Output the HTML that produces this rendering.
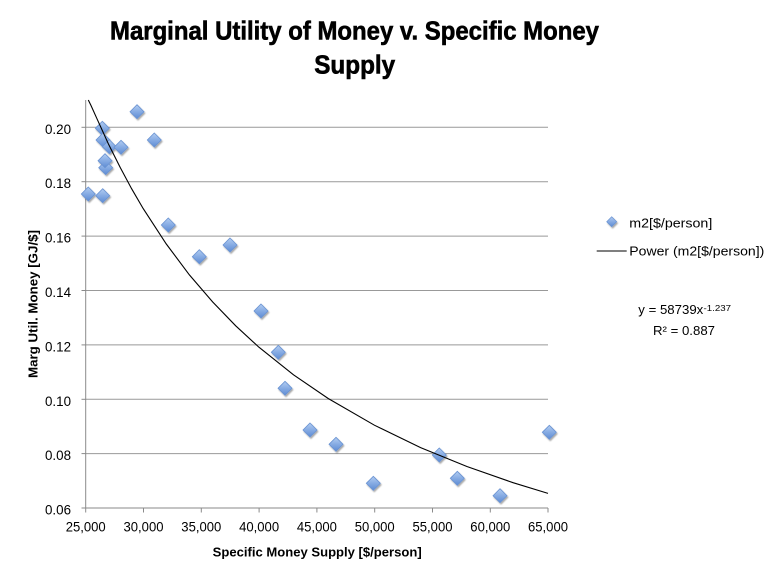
<!DOCTYPE html>
<html>
<head>
<meta charset="utf-8">
<style>
  html,body{margin:0;padding:0;background:#fff;}
  svg{display:block;}
  text{font-family:"Liberation Sans", sans-serif;fill:#000;}
</style>
</head>
<body>
<svg width="783" height="579" viewBox="0 0 783 579" xmlns="http://www.w3.org/2000/svg">
  <defs>
    <linearGradient id="dg" x1="0" y1="0" x2="0" y2="1">
      <stop offset="0" stop-color="#b3cdf2"/>
      <stop offset="0.5" stop-color="#86abe3"/>
      <stop offset="1" stop-color="#5e8cd4"/>
    </linearGradient>
    <filter id="sh" x="-50%" y="-50%" width="200%" height="200%">
      <feGaussianBlur in="SourceAlpha" stdDeviation="0.9"/>
      <feOffset dx="0.8" dy="1.6" result="b"/>
      <feComponentTransfer><feFuncA type="linear" slope="0.35"/></feComponentTransfer>
      <feMerge><feMergeNode/><feMergeNode in="SourceGraphic"/></feMerge>
    </filter>
    <path id="dm" d="M0,-7 L7,0 L0,7 L-7,0 Z" fill="url(#dg)" stroke="#6a93d2" stroke-width="0.8"/>
  </defs>
  <rect width="783" height="579" fill="#fff"/>

  <!-- Title -->
  <text x="354.5" y="39.3" font-size="26" font-weight="bold" text-anchor="middle" textLength="489" lengthAdjust="spacingAndGlyphs" stroke="#000" stroke-width="0.6">Marginal Utility of Money v. Specific Money</text>
  <text x="354.7" y="73.3" font-size="26" font-weight="bold" text-anchor="middle" textLength="81" lengthAdjust="spacingAndGlyphs" stroke="#000" stroke-width="0.6">Supply</text>

  <!-- gridlines -->
  <g stroke="#999" stroke-width="1">
    <line x1="85.7" y1="127.3" x2="548" y2="127.3"/>
    <line x1="85.7" y1="181.7" x2="548" y2="181.7"/>
    <line x1="85.7" y1="236.1" x2="548" y2="236.1"/>
    <line x1="85.7" y1="290.5" x2="548" y2="290.5"/>
    <line x1="85.7" y1="344.9" x2="548" y2="344.9"/>
    <line x1="85.7" y1="399.3" x2="548" y2="399.3"/>
    <line x1="85.7" y1="453.6" x2="548" y2="453.6"/>
  </g>
  <!-- axes -->
  <g stroke="#8a8a8a" stroke-width="1">
    <line x1="85.7" y1="100" x2="85.7" y2="508"/>
    <line x1="85.7" y1="508" x2="548" y2="508"/>
    <!-- y ticks -->
    <line x1="81.5" y1="127.3" x2="85.7" y2="127.3"/>
    <line x1="81.5" y1="181.7" x2="85.7" y2="181.7"/>
    <line x1="81.5" y1="236.1" x2="85.7" y2="236.1"/>
    <line x1="81.5" y1="290.5" x2="85.7" y2="290.5"/>
    <line x1="81.5" y1="344.9" x2="85.7" y2="344.9"/>
    <line x1="81.5" y1="399.3" x2="85.7" y2="399.3"/>
    <line x1="81.5" y1="453.6" x2="85.7" y2="453.6"/>
    <line x1="81.5" y1="508" x2="85.7" y2="508"/>
    <!-- x ticks -->
    <line x1="85.7" y1="508" x2="85.7" y2="512.5"/>
    <line x1="143.5" y1="508" x2="143.5" y2="512.5"/>
    <line x1="201.3" y1="508" x2="201.3" y2="512.5"/>
    <line x1="259.1" y1="508" x2="259.1" y2="512.5"/>
    <line x1="316.9" y1="508" x2="316.9" y2="512.5"/>
    <line x1="374.7" y1="508" x2="374.7" y2="512.5"/>
    <line x1="432.5" y1="508" x2="432.5" y2="512.5"/>
    <line x1="490.3" y1="508" x2="490.3" y2="512.5"/>
    <line x1="548" y1="508" x2="548" y2="512.5"/>
  </g>

  <!-- y tick labels -->
  <g font-size="14" text-anchor="end">
    <text x="71" y="133.8" textLength="26" lengthAdjust="spacingAndGlyphs">0.20</text>
    <text x="71" y="188.2" textLength="26" lengthAdjust="spacingAndGlyphs">0.18</text>
    <text x="71" y="242.6" textLength="26" lengthAdjust="spacingAndGlyphs">0.16</text>
    <text x="71" y="297.0" textLength="26" lengthAdjust="spacingAndGlyphs">0.14</text>
    <text x="71" y="351.4" textLength="26" lengthAdjust="spacingAndGlyphs">0.12</text>
    <text x="71" y="405.8" textLength="26" lengthAdjust="spacingAndGlyphs">0.10</text>
    <text x="71" y="460.1" textLength="26" lengthAdjust="spacingAndGlyphs">0.08</text>
    <text x="71" y="514.5" textLength="26" lengthAdjust="spacingAndGlyphs">0.06</text>
  </g>
  <!-- x tick labels -->
  <g font-size="14" text-anchor="middle">
    <text x="85.7" y="531.5" textLength="40" lengthAdjust="spacingAndGlyphs">25,000</text>
    <text x="143.5" y="531.5" textLength="40" lengthAdjust="spacingAndGlyphs">30,000</text>
    <text x="201.3" y="531.5" textLength="40" lengthAdjust="spacingAndGlyphs">35,000</text>
    <text x="259.1" y="531.5" textLength="40" lengthAdjust="spacingAndGlyphs">40,000</text>
    <text x="316.9" y="531.5" textLength="40" lengthAdjust="spacingAndGlyphs">45,000</text>
    <text x="374.7" y="531.5" textLength="40" lengthAdjust="spacingAndGlyphs">50,000</text>
    <text x="432.5" y="531.5" textLength="40" lengthAdjust="spacingAndGlyphs">55,000</text>
    <text x="490.3" y="531.5" textLength="40" lengthAdjust="spacingAndGlyphs">60,000</text>
    <text x="548" y="531.5" textLength="40" lengthAdjust="spacingAndGlyphs">65,000</text>
  </g>

  <!-- axis titles -->
  <text x="317.2" y="556.3" font-size="13" font-weight="bold" text-anchor="middle" textLength="209" lengthAdjust="spacingAndGlyphs">Specific Money Supply [$/person]</text>
  <text transform="translate(37.5,304) rotate(-90)" x="0" y="0" font-size="13" font-weight="bold" text-anchor="middle" textLength="148" lengthAdjust="spacingAndGlyphs">Marg Util. Money [GJ/$]</text>

  <!-- data points -->
  <g filter="url(#sh)">
    <use href="#dm" x="137" y="111.7"/>
    <use href="#dm" x="102.3" y="128.3"/>
    <use href="#dm" x="154.3" y="140"/>
    <use href="#dm" x="103" y="140"/>
    <use href="#dm" x="109.3" y="146.7"/>
    <use href="#dm" x="121" y="147.3"/>
    <use href="#dm" x="105.7" y="167.7"/>
    <use href="#dm" x="105" y="160.7"/>
    <use href="#dm" x="88.3" y="194"/>
    <use href="#dm" x="102.7" y="195.7"/>
    <use href="#dm" x="168.3" y="225"/>
    <use href="#dm" x="199.3" y="256.7"/>
    <use href="#dm" x="230" y="245"/>
    <use href="#dm" x="261" y="311"/>
    <use href="#dm" x="278.3" y="352.3"/>
    <use href="#dm" x="285" y="388.3"/>
    <use href="#dm" x="310" y="430"/>
    <use href="#dm" x="336" y="444.3"/>
    <use href="#dm" x="373.3" y="483.3"/>
    <use href="#dm" x="439.3" y="455"/>
    <use href="#dm" x="457.3" y="478.3"/>
    <use href="#dm" x="500" y="495.7"/>
    <use href="#dm" x="549.3" y="432.3"/>
  </g>

  <!-- power trendline -->
  <polyline fill="none" stroke="#000" stroke-width="1.1" points="
    88.3,100 91.0,105.5 97.0,118.8 108.5,144.1 120.1,167.3 131.6,188.7 143.2,208.6
    166.3,244.0 189.4,274.9 212.6,301.9 235.7,325.8 258.8,347.1 293.5,374.8
    328.2,398.5 374.4,425.2 420.6,447.6 466.9,466.5 513.1,482.7 548,493.4"/>

  <!-- legend -->
  <g filter="url(#sh)">
    <path d="M611.7,216.7 L616.7,221.7 L611.7,226.7 L606.7,221.7 Z" fill="url(#dg)" stroke="#6a93d2" stroke-width="0.7"/>
  </g>
  <text x="629.3" y="227.5" font-size="13" textLength="83" lengthAdjust="spacingAndGlyphs">m2[$/person]</text>
  <line x1="596.7" y1="251" x2="626.7" y2="251" stroke="#333" stroke-width="1.2"/>
  <text x="629.3" y="255.5" font-size="13" textLength="135" lengthAdjust="spacingAndGlyphs">Power (m2[$/person])</text>

  <!-- equation -->
  <text x="638.3" y="314" font-size="12.5" textLength="65" lengthAdjust="spacingAndGlyphs">y = 58739x</text>
  <text x="703.5" y="311" font-size="8.5" textLength="27.5" lengthAdjust="spacingAndGlyphs">-1.237</text>
  <text x="653" y="335" font-size="12.5" textLength="62" lengthAdjust="spacingAndGlyphs">R² = 0.887</text>
</svg>
</body>
</html>
